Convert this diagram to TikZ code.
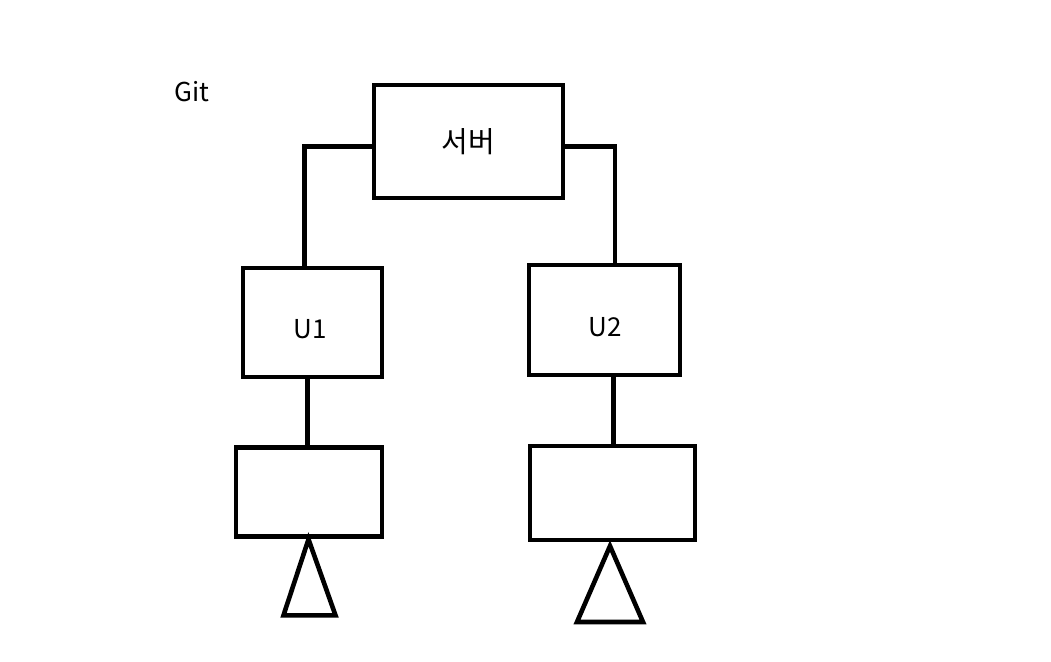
\documentclass[tikz,border=0pt]{standalone}
\usepackage{fontspec}
\setmainfont{Noto Sans CJK KR}
\usetikzlibrary{positioning}

\begin{document}
\begin{tikzpicture}[x=0.5pt,y=-0.5pt,line width=2.3pt,line join=miter,
    font=\fontsize{13}{15}\selectfont,
    blok/.style={draw,minimum width=#1,inner sep=0pt,outer sep=0pt}]
  \useasboundingbox (0,0) rectangle (1051,661);
  \node at (192,92) (git) {Git};
  \node[blok=94.5pt,minimum height=56.5pt,font=\fontsize{14.5}{16}\selectfont] at (468.5,141.5) (srv) {서버};
  \node[blok=69.5pt,minimum height=54.5pt] at (312.5,322.5) (u1) {};
  \node at (310,329) (u1t) {U1};
  \node[blok=75.5pt,minimum height=55pt] at (604.5,320) (u2) {};
  \node at (605,327) (u2t) {U2};
  \node[blok=73pt,minimum height=44.3pt] at (309,492) (w1) {};
  \node[blok=82.5pt,minimum height=47pt] at (612.5,493) (w2) {};
  % server to users
  \draw ([yshift=-2.5pt]srv.west) -| ([xshift=-4pt]u1.north);
  \draw ([yshift=-2.5pt]srv.east) -| ([xshift=5.25pt]u2.north);
  \draw ([xshift=5.25pt,yshift=-1.75pt]u2.north |- srv.east) -- ++(0,4);
  % users to working copies
  \draw ([xshift=-2.5pt]u1.south) -- ([xshift=-0.75pt]w1.north);
  \draw ([xshift=4.5pt]u2.south) -- ([xshift=0.5pt]w2.north);
  % stands
  \draw (w1.south) ++(-0.5,3) coordinate (t1) -- ++(-25,76) -- ++(52,0) -- cycle;
  \draw (w2.south) ++(-2.5,6) coordinate (t2) -- ++(-33,76) -- ++(66,0) -- cycle;
\end{tikzpicture}
\end{document}
